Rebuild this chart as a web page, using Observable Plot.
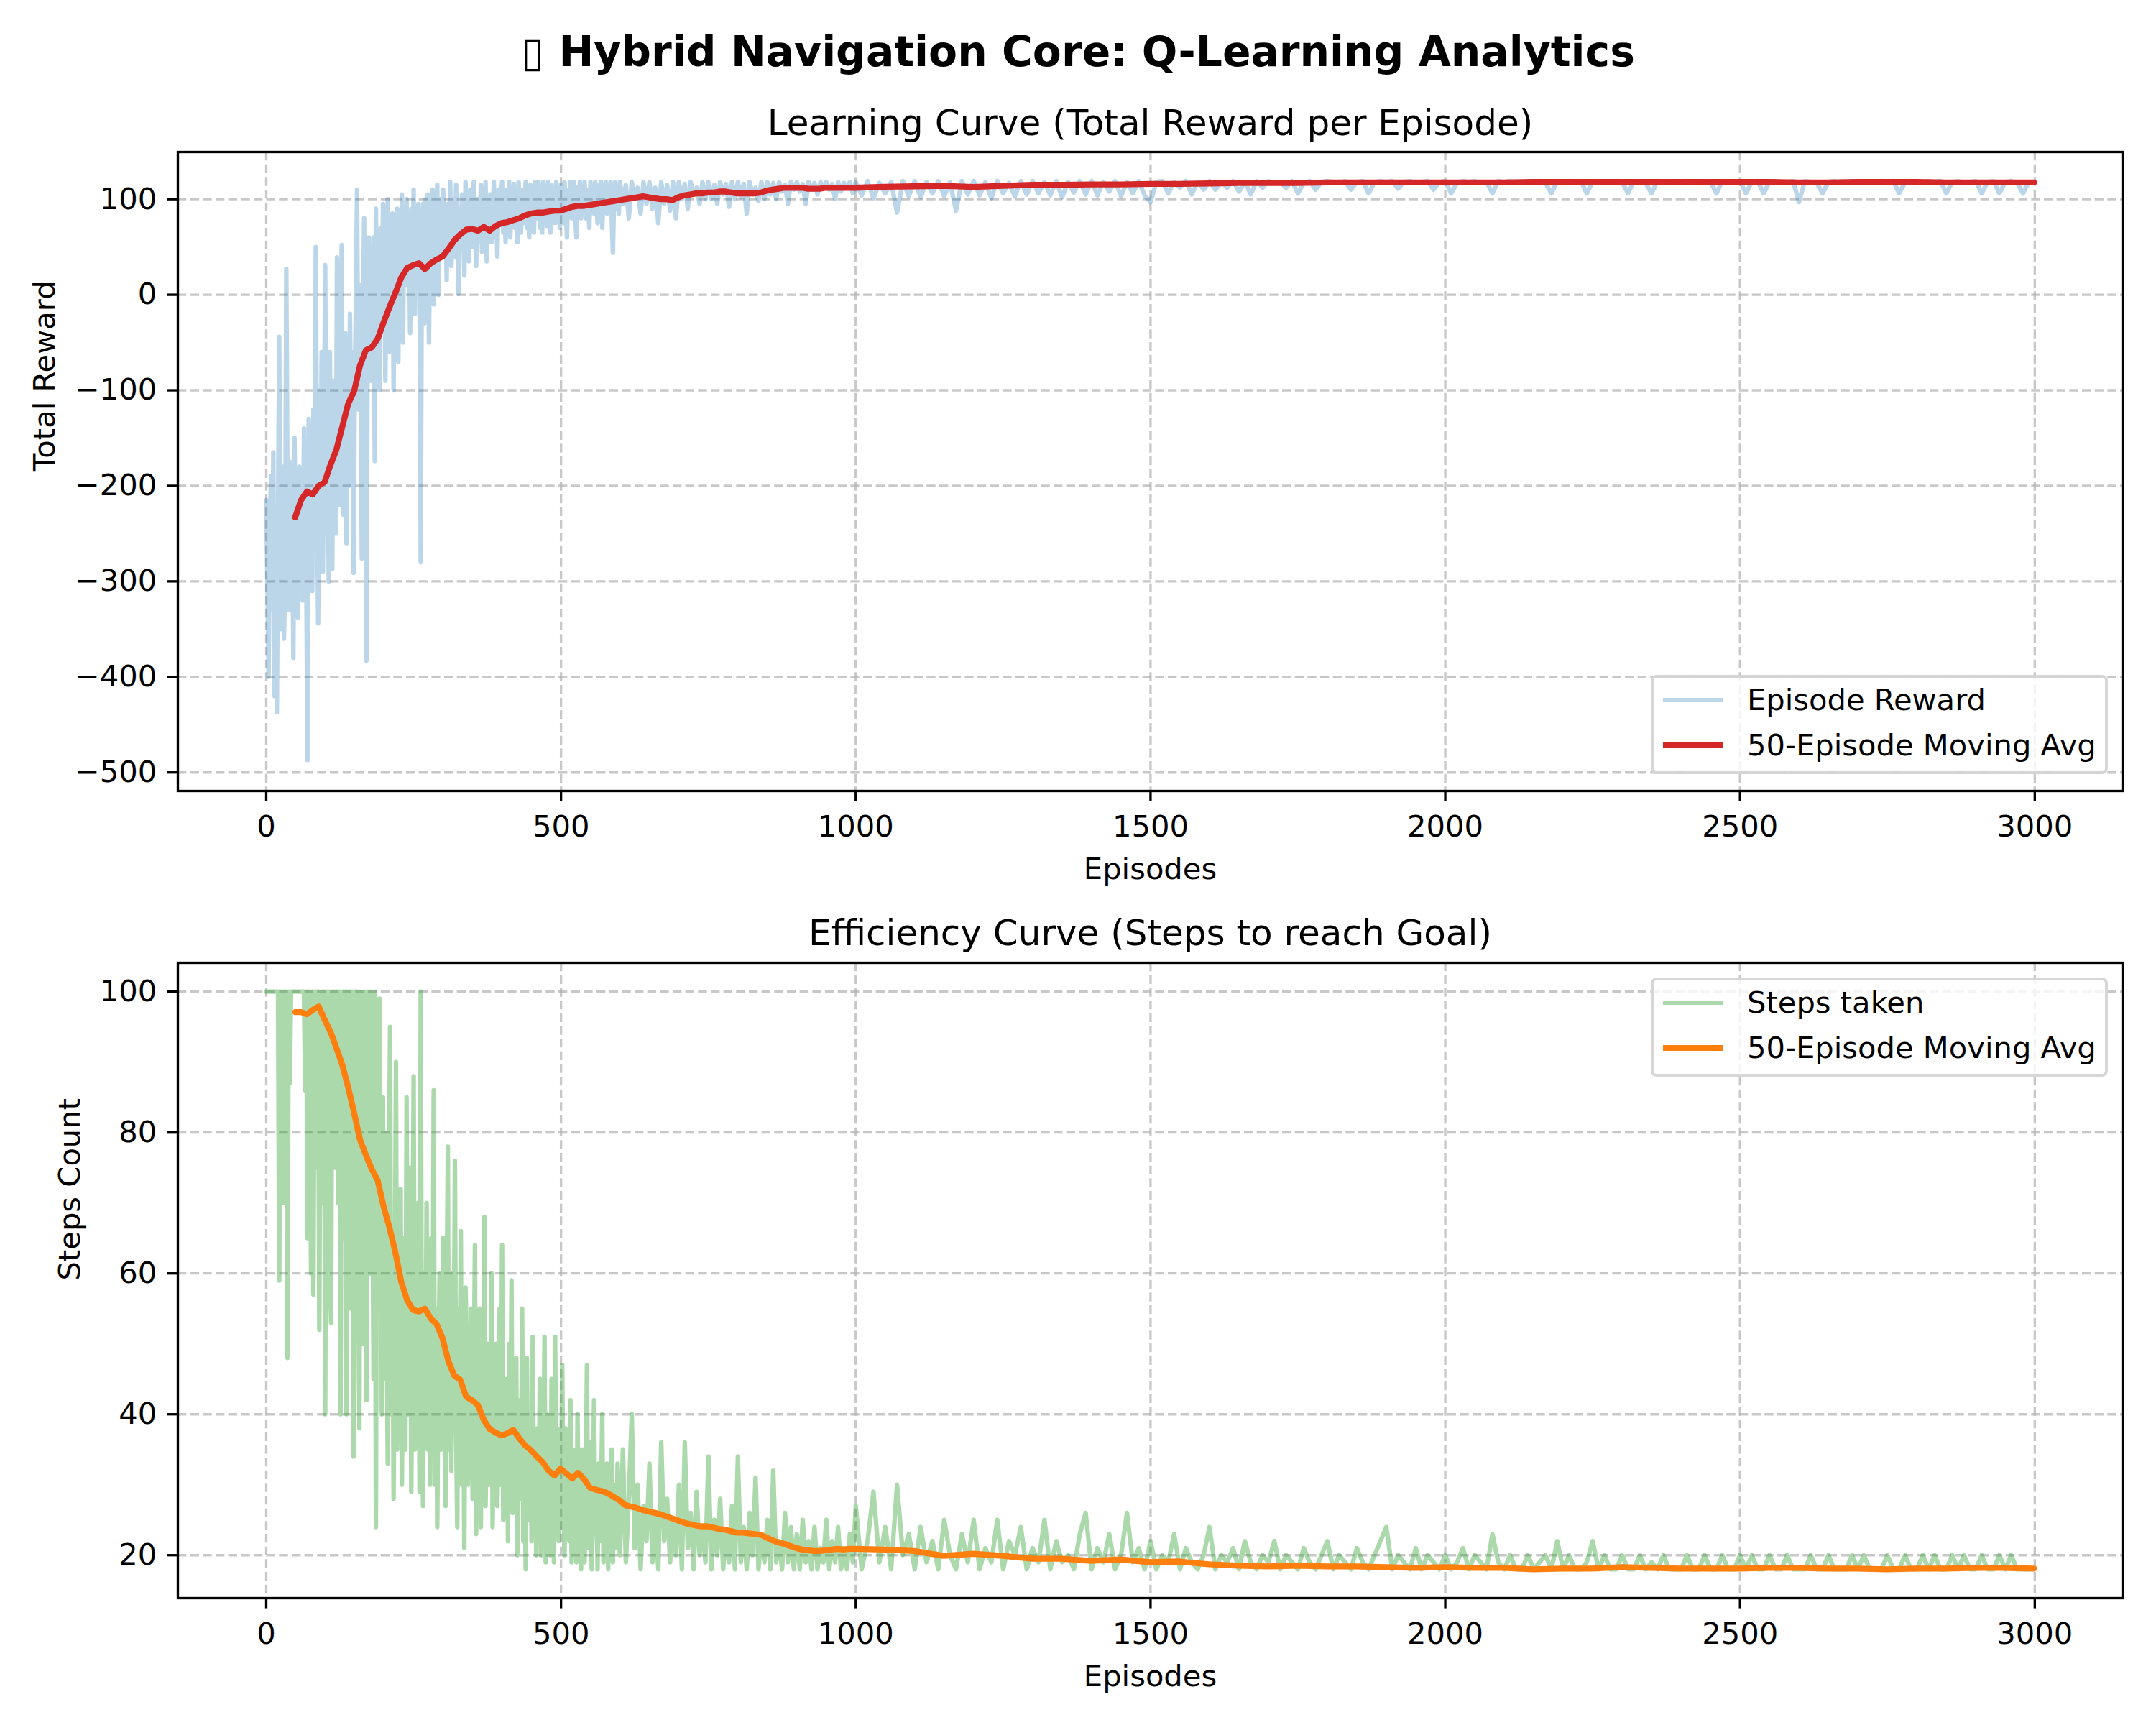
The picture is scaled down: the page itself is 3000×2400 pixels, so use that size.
<!DOCTYPE html>
<html>
<head>
<meta charset="utf-8">
<script src="https://cdn.jsdelivr.net/npm/d3@7"></script>
<script src="https://cdn.jsdelivr.net/npm/@observablehq/plot@0.6"></script>
<style>
  html, body { margin: 0; padding: 0; background: #fff; }
  #fig { position: relative; width: 3000px; height: 2400px; background: #fff;
         font-family: "DejaVu Sans", sans-serif; color: #000; overflow: hidden; }
  .suptitle { position: absolute; left: 0; width: 3000px; top: 43px; text-align: center;
              font-size: 58.33px; line-height: 58.33px; font-weight: bold; white-space: pre; }
  .suptitle .glyph { font-weight: normal; }
  .panel { position: absolute; left: 0; }
  .panel svg { max-width: none; overflow: visible; }
  .legend { position: absolute; box-sizing: border-box; width: 636px; height: 138px;
            background: rgba(255,255,255,0.8); border: 4.17px solid rgba(204,204,204,0.8);
            border-radius: 8px; }
  .legend .swatch { position: absolute; left: 13px; width: 83px; }
  .legend .label { position: absolute; left: 130px; font-size: 41.67px; line-height: 41.67px; white-space: pre; }
</style>
</head>
<body>
<div id="fig">
  <div class="suptitle"><span class="glyph">▯</span> Hybrid Navigation Core: Q-Learning Analytics</div>
</div>
<script>
// ---- tick values ----
const xTicks = [0, 500, 1000, 1500, 2000, 2500, 3000];
const rewardTicks = [-500, -400, -300, -200, -100, 0, 100];
const stepTicks = [20, 40, 60, 80, 100];

// ---- total reward per episode ----
// episodes 0–598 every 2
const rewardEarly = [
  -215,-300,-400,-250,-190,-330,-165,-420,-280,-437,
  -230,-44,-350,-260,-180,-360,-300,27,-200,-330,
  -175,-280,-240,-380,-150,-300,-210,-338,-180,-260,
  -200,-320,-140,-250,-300,-487,-130,-230,-170,-310,
  -120,-260,50,-180,-344,-100,-230,-60,-290,-150,
  31,-250,-120,-300,-60,-200,-287,-90,-180,-250,
  39,-150,-220,-80,52,-230,-130,-40,-260,-100,
  -200,-20,-150,-60,-291,-100,-10,110,-120,-50,
  10,-276,-40,80,-120,-383,-30,60,-90,20,
  -20,60,-174,90,-50,40,-100,70,-30,95,
  70,-90,20,100,-60,50,-30,85,-100,60,
  -20,90,-70,60,10,105,-50,80,20,100,
  10,75,-40,90,30,110,-20,85,50,95,
  20,-280,60,95,-30,100,40,105,-50,80,
  30,110,-10,85,60,115,0,100,40,90,
  110,40,85,15,95,60,118,30,75,100,
  40,115,65,1,90,50,105,70,20,118,
  60,95,35,110,80,50,118,70,30,100,
  85,55,115,45,90,70,118,35,95,65,
  105,55,80,118,60,95,40,110,75,100,
  118,65,90,55,110,80,118,60,100,75,
  116,70,95,55,118,85,65,110,75,100,
  118,70,90,60,115,85,105,65,118,80,
  95,118,70,100,65,118,85,110,72,118,
  90,65,115,80,108,75,118,90,100,70,
  115,85,75,118,95,60,110,90,118,80,
  105,118,85,60,112,95,118,80,100,90,
  118,80,110,95,70,118,90,105,85,118,
  95,75,115,100,118,70,105,90,118,85,
  110,95,118,80,44,100,118,90,110,85
];
// episodes 600–995 every 5
const rewardMid = [
  118,95,115,80,118,100,112,85,118,95,
  118,90,112,75,118,95,115,88,118,80,
  118,100,116,90,118,105,112,95,118,100,
  118,100,115,95,118,105,116,92,118,100,
  118,102,116,85,118,105,112,98,118,100,
  118,105,117,100,118,108,115,95,118,110,
  118,108,116,95,118,110,117,105,118,112,
  118,110,116,100,118,108,117,112,118,106
];
// episodes 1000–2990 every 10
const rewardLate = [
  118,104,119,101,117,106,118,86,119,103,
  119,102,118,106,119,103,118,88,119,105,
  119,104,118,101,119,106,117,103,119,105,
  119,106,118,104,119,102,118,107,119,105,
  119,104,118,108,119,103,118,106,119,104,
  97,118,119,106,118,112,119,105,118,110,
  119,110,118,112,119,108,118,105,119,112,
  119,117,118,112,119,106,117,119,110,118,
  119,118,117,119,110,118,119,106,118,119,
  118,119,111,118,119,117,118,119,110,118,
  119,106,117,119,118,119,117,118,106,119,
  118,119,117,118,119,118,119,117,106,119,
  118,119,117,119,106,118,119,117,118,119,
  118,106,119,118,117,106,119,118,119,117,
  118,119,118,117,119,118,106,119,118,117,
  119,106,118,119,106,118,119,117,118,119,
  97,119,118,117,106,118,119,117,118,119,
  118,119,117,118,119,118,119,106,118,119,
  118,117,119,118,119,106,118,119,117,118,
  119,106,118,119,106,118,119,117,106,118
];
// 50-episode moving average of reward: episodes 49–999 every 10, then 1049–2999 every 50
const rewardAvgEarly = [
  -233,-215,-206,-209,-200,-196,-178,-162,-138,-114,
  -101,-74,-58,-55,-46,-29,-13,2,18,28,
  31,33,27,33,37,40,48,57,63,68,
  69,67,71,67,72,75,76,78,80,83,
  85,86,86,87,88,88,90,92,93,93,
  94,95,96,97,98,99,100,101,102,103,
  102,101,100,100,99,102,104,105,106,106,
  107,107,108,108,107,106,106,106,106,107,
  109,110,111,112,112,112,112,111,111,111,
  112,112,112,112,112,112
];
const rewardAvgLate = [
  113,113.5,114,112.8,114,115,115,115.5,115.5,116,
  116,116.5,117,117,117,117.5,117.5,117.5,117.5,117.5,
  117.5,117.5,118,118,118,118,118,118,118,118,
  118,117.5,117.5,118,118,118,117.5,117.5,117.5,117.5
];

// ---- steps per episode: same episode grid as the rewards ----
const stepsEarly = [
  100,100,100,100,100,100,100,100,100,100,
  100,59,100,88,70,100,80,100,48,100,
  87,100,100,100,100,100,100,100,100,100,
  100,100,100,86,100,65,100,90,60,100,
  57,100,75,100,100,52,95,100,70,100,
  40,100,85,100,60,53,100,100,75,100,
  100,70,100,40,95,100,65,100,40,100,
  80,100,55,100,34,100,75,100,60,38,
  100,95,50,100,70,42,100,85,60,100,
  75,45,100,24,90,55,99,70,40,85,
  45,80,60,33,70,95,40,65,28,55,
  90,35,60,45,72,30,50,65,35,85,
  50,40,75,29,60,88,35,55,45,70,
  29,100,40,27,60,45,70,35,50,30,
  65,40,86,30,55,24,45,60,35,50,
  65,40,27,55,78,35,50,32,60,45,
  76,38,24,55,42,66,30,48,21,58,
  50,30,42,35,55,28,45,64,23,40,
  38,55,24,45,33,68,27,40,50,30,
  35,60,24,42,30,50,27,38,55,30,
  64,25,40,33,45,22,50,30,59,26,
  40,30,48,20,35,42,28,55,22,38,
  18,48,30,25,40,22,51,28,35,20,
  38,26,45,20,33,28,51,19,40,24,
  35,20,45,28,19,51,25,38,22,30,
  24,47,28,20,38,25,32,22,42,19,
  35,25,28,19,40,22,31,18,35,25,
  19,30,47,21,28,36,18,25,42,23,
  30,18,33,22,28,40,19,26,21,33,
  18,28,22,35,19,30,25,21,33,24
];
const stepsMid = [
  20,35,19,28,40,21,30,18,27,22,
  33,19,26,18,36,22,28,19,25,20,
  30,18,36,21,26,18,29,20,24,19,
  34,18,25,20,28,18,23,19,27,18,
  34,19,24,18,26,20,31,18,23,19,
  25,18,32,19,22,18,26,19,24,18,
  23,18,25,19,22,18,24,18,21,19,
  25,18,22,19,24,18,21,18,23,19
];
const stepsLate = [
  27,18,22,29,19,24,18,30,20,23,
  18,24,19,22,18,25,20,18,23,19,
  25,18,21,19,25,18,22,20,24,18,
  21,19,25,18,22,19,20,18,23,26,
  18,21,19,23,18,20,26,19,21,18,
  22,18,20,19,23,18,21,19,18,20,
  24,18,20,19,21,18,22,19,18,20,
  19,22,18,20,19,18,21,19,18,20,
  22,18,20,19,18,21,19,18,20,22,
  24,18,20,19,18,21,18,20,19,18,
  20,18,19,21,18,20,19,18,23,19,
  18,20,18,18,20,18,19,20,18,22,
  18,20,18,18,19,22,18,20,18,18,
  20,18,18,20,18,19,18,20,18,18,
  18,20,18,18,20,18,18,20,18,18,
  20,18,20,18,18,20,18,18,20,18,
  18,18,20,18,18,20,18,18,18,20,
  18,20,18,18,18,20,18,18,20,18,
  18,20,18,20,18,18,20,18,20,18,
  18,20,18,18,20,18,20,18,18,18
];
const stepsAvgEarly = [
  97.1,97.1,96.8,97.4,97.9,96.0,94.3,92.0,89.6,86.4,
  82.8,79.0,76.8,74.8,73.2,69.5,66.5,63.0,58.8,56.2,
  54.8,54.6,55.0,53.6,52.8,50.8,47.5,45.5,44.9,42.5,
  42.0,41.3,39.2,37.9,37.4,37.0,37.3,37.8,36.6,35.6,
  34.9,34.0,33.2,32.0,31.3,32.3,31.6,30.9,31.7,30.8,
  29.6,29.3,29.1,28.8,28.3,27.8,27.1,26.9,26.7,26.4,
  26.2,26.0,25.8,25.5,25.2,24.9,24.6,24.4,24.2,24.1,
  24.1,23.9,23.7,23.6,23.4,23.2,23.2,23.1,23.0,22.9,
  22.5,22.1,21.8,21.6,21.3,21.0,20.8,20.7,20.6,20.6,
  20.7,20.8,20.9,20.8,20.9,20.9
];
const stepsAvgLate = [
  20.8,20.6,19.9,20.2,19.9,19.5,19.5,19.2,19.4,19.0,
  19.1,18.7,18.5,18.4,18.5,18.4,18.4,18.3,18.2,18.3,
  18.2,18.2,18.0,18.1,18.1,18.3,18.2,18.1,18.1,18.1,
  18.2,18.2,18.1,18.1,18.0,18.1,18.1,18.2,18.2,18.1
];

// ---- build tables for the line marks ----
function rawSeries(early, mid, late) {
  return [
    ...early.map((v, i) => ({ep: i * 2, v})),
    ...mid.map((v, i) => ({ep: 600 + i * 5, v})),
    ...late.map((v, i) => ({ep: 1000 + i * 10, v}))
  ];
}
function avgSeries(early, late) {
  return [
    ...early.map((v, i) => ({ep: 49 + i * 10, v})),
    ...late.map((v, i) => ({ep: 1049 + i * 50, v}))
  ];
}

const PT = 300 / 72;               // figure drawn at 300 dpi
const FS = 10 * PT;                // 10pt labels
const RAW_W = 1.5 * PT;            // raw series line width
const AVG_W = 2 * PT;              // moving-average line width
const fmt = d => String(d).replace("-", "\u2212");
const grid = {stroke: "#b0b0b0", strokeOpacity: 0.7, strokeWidth: 0.8 * PT, strokeDasharray: `${2.96 * PT},${1.28 * PT}`};

function panel(o) {
  const mt = o.frameTop - o.top;
  const mb = o.top + o.height - o.frameBottom;
  const chart = Plot.plot({
    width: 3000,
    height: o.height,
    marginTop: mt,
    marginBottom: mb,
    marginLeft: 247,
    marginRight: 47,
    x: {domain: [-149.95, 3148.95]},
    y: {domain: o.yDomain},
    style: {fontFamily: "DejaVu Sans", fontSize: FS + "px", color: "#000", background: "transparent", overflow: "visible"},
    marks: [
      Plot.gridX(xTicks, grid),
      Plot.gridY(o.yTicks, grid),
      Plot.line(o.raw, {x: "ep", y: "v", stroke: o.rawColor, strokeOpacity: o.rawOpacity, strokeWidth: RAW_W}),
      Plot.line(o.avg, {x: "ep", y: "v", stroke: o.avgColor, strokeWidth: AVG_W}),
      Plot.frame({stroke: "#000", strokeWidth: 0.8 * PT}),
      Plot.axisX(xTicks, {anchor: "bottom", tickSize: 3.5 * PT, tickPadding: 19.8, strokeWidth: 0.8 * PT,
                          fontSize: FS, tickFormat: fmt, label: null}),
      Plot.axisY(o.yTicks, {anchor: "left", tickSize: 3.5 * PT, tickPadding: 3.5 * PT, strokeWidth: 0.8 * PT,
                            fontSize: FS, tickFormat: fmt, label: null}),
      Plot.text([o.title], {text: d => d, frameAnchor: "top", dy: o.titleDy, lineAnchor: "bottom", fontSize: 12 * PT}),
      Plot.text(["Episodes"], {text: d => d, frameAnchor: "bottom", dy: 122, lineAnchor: "bottom", fontSize: FS}),
      Plot.text([o.yLabel], {text: d => d, frameAnchor: "left", dx: o.yLabelX - 247, rotate: -90,
                             lineAnchor: "middle", fontSize: FS})
    ]
  });
  const wrap = document.createElement("div");
  wrap.className = "panel";
  wrap.style.top = o.top + "px";
  wrap.appendChild(chart);
  document.getElementById("fig").appendChild(wrap);
}

function legend(top, items) {
  const box = document.createElement("div");
  box.className = "legend";
  box.style.left = "2297px";
  box.style.top = top + "px";
  items.forEach((it, i) => {
    const cy = 31 + i * 63;
    const sw = document.createElement("div");
    sw.className = "swatch";
    sw.style.height = it.width + "px";
    sw.style.top = (cy - it.width / 2) + "px";
    sw.style.background = it.color;
    const lab = document.createElement("div");
    lab.className = "label";
    lab.style.top = (cy - FS / 2) + "px";
    lab.textContent = it.label;
    box.appendChild(sw);
    box.appendChild(lab);
  });
  document.getElementById("fig").appendChild(box);
}

panel({
  top: 0, height: 1250, frameTop: 211, frameBottom: 1100,
  yDomain: [-519.4, 149.4], yTicks: rewardTicks,
  title: "Learning Curve (Total Reward per Episode)", titleDy: -24,
  yLabel: "Total Reward", yLabelX: 62,
  raw: rawSeries(rewardEarly, rewardMid, rewardLate), avg: avgSeries(rewardAvgEarly, rewardAvgLate),
  rawColor: "#1f77b4", rawOpacity: 0.3, avgColor: "#d62728"
});
panel({
  top: 1250, height: 1150, frameTop: 1339, frameBottom: 2223,
  yDomain: [13.9, 104.1], yTicks: stepTicks,
  title: "Efficiency Curve (Steps to reach Goal)", titleDy: -25,
  yLabel: "Steps Count", yLabelX: 97,
  raw: rawSeries(stepsEarly, stepsMid, stepsLate), avg: avgSeries(stepsAvgEarly, stepsAvgLate),
  rawColor: "#2ca02c", rawOpacity: 0.4, avgColor: "#ff7f0e"
});

legend(939, [
  {label: "Episode Reward", color: "rgba(31,119,180,0.3)", width: RAW_W},
  {label: "50-Episode Moving Avg", color: "#d62728", width: AVG_W}
]);
legend(1360, [
  {label: "Steps taken", color: "rgba(44,160,44,0.4)", width: RAW_W},
  {label: "50-Episode Moving Avg", color: "#ff7f0e", width: AVG_W}
]);
</script>
</body>
</html>
